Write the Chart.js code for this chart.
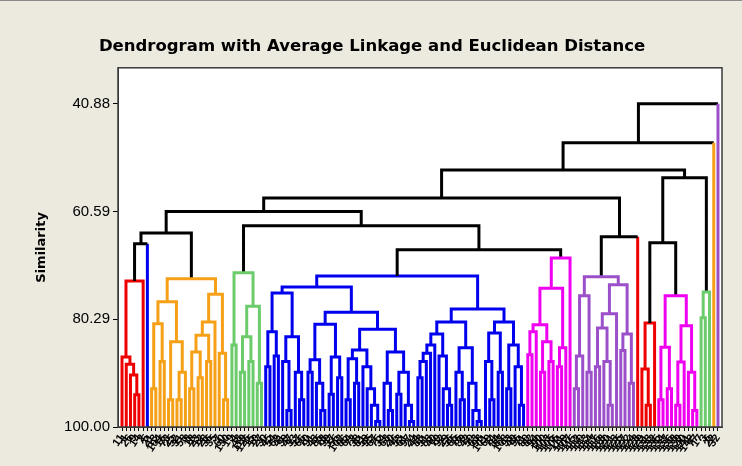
<!DOCTYPE html>
<html><head><meta charset="utf-8">
<script src="https://cdn.jsdelivr.net/npm/chart.js@4/dist/chart.umd.min.js"></script>
<style>
html,body{margin:0;padding:0;background:#ECE9DF;}
canvas{display:block;}
</style></head><body>
<canvas id="c" width="742" height="466"></canvas>
<script>
// ---- tick labels (leaf / observation ids, left to right) ----
const leafLabels = [
 11,1,26,9,14,2,5,21,13,104,
 16,73,25,52,31,58,8,18,23,12,
 28,36,35,7,60,130,19,4,48,119,
 126,15,10,27,30,45,54,62,41,39,
 47,33,57,66,70,91,43,85,78,99,
 37,55,102,86,64,72,38,81,59,95,
 67,75,34,68,20,46,53,61,97,24,
 44,88,51,83,40,79,92,29,56,65,
 76,89,42,50,63,98,101,69,74,84,
 87,108,93,49,96,71,80,82,94,90,
 100,103,105,106,111,109,107,115,112,110,
 113,114,117,116,118,120,121,123,125,127,
 122,124,128,129,131,133,132,135,134,137,
 136,138,139,140,141,142,77,17,3,6,
 22,32];
const yTickValues = [40.88, 60.59, 80.29, 100.00];

// ---- clusters: node = [similarity, left, right]; leaf = position index ----
const redL = [73.3, [87.2, 0, [88.5, 1, [90.5, 2, [94.1, 3, 4]]]], 5];
const blueS = 6;
const orange = [72.9,
  [77.1, [81.1, [93, 7, 8], [88, 9, 10]], [84.4, [95, 11, 12], [90, [95, 13, 14], 15]]],
  [75.7, [80.8, [83.2, [86.3, [93, 16, 17], [91, 18, 19]], [88, 20, 21]], 22], [86.5, 23, [95, 24, 25]]]];
const greenL = [71.8, [85, 26, 27], [77.9, [83.5, [90, 28, 29], [88, 30, 31]], [92, 32, 33]]];
const blue = [72.4,
  [74.4,
    [75.5, [82.6, [89, 34, 35], [87, 36, 37]], [83.5, [88, 38, [97, 39, 40]], [90, 41, [95, 42, 43]]]],
    [79.0,
      [81.2, [87.7, [90, 44, 45], [92, 46, [97, 47, 48]]], [87.2, [94, 49, 50], [91, 51, 52]]],
      [82.1,
        [85.9, [87.5, [95, 53, 54], [92, 55, 56]], [89, 57, [93, 58, [96, 59, [99, 60, 61]]]]],
        [86.3, [92, 62, [97, 63, 64]], [90, [94, 65, 66], [96, 67, [99, 68, 69]]]]]]],
  [78.4,
    [80.8,
      [83, [85, [86.5, [88, [91, 70, 71], 72], 73], 74], [87, 75, [93, 76, [96, 77, 78]]]],
      [85.5, [90, 79, [95, 80, 81]], [92, 82, [97, 83, [99, 84, 85]]]]],
    [80.8,
      [82.8, [88, 86, [95, 87, 88]], [90, 89, 90]],
      [85, [93, 91, 92], [89, 93, [96, 94, 95]]]]]];
const magenta = [69.1,
  [74.6, [81.3, [82.6, [86.8, 96, 97], 98], [84.4, [90, 99, 100], [88, 101, 102]]], [85.5, [89, 103, 104], 105]],
  106];
const purple = [72.5,
  [76, [87, [93, 107, 108], 109], [90, 110, 111]],
  [74, [79.3, [81.9, [89, 112, 113], [88, 114, [96, 115, 116]]], 117], [83, [86, 118, 119], [92, 120, 121]]]];
const redS = 122;
const redR = [81, [89.4, 123, [96, 124, 125]], 126];
const magentaR = [76, [85.4, [95, 127, 128], [93, 129, 130]], [81.5, [88.1, [96, 131, 132], 133], [90, 134, [97, 135, 136]]]];
const greenR = [75.3, [80, 137, 138], 139];
const orangeS = 140;
const purpleS = 141;

// joins between clusters (black links)
const topTree = [40.88,
  [48.0,
    [53.0,
      [58.1,
        [60.6, [64.5, [66.5, 'redL', 'blueS'], 'orange'], [63.2, 'greenL', [67.6, 'blue', 'magenta']]],
        [65.2, 'purple', 'redS']],
      [54.4, [66.3, 'redR', 'magentaR'], 'greenR']],
    'orangeS'],
  'purpleS'];

const clusters = {redL, blueS, orange, greenL, blue, magenta, purple, redS, redR, magentaR, greenR, orangeS, purpleS};
const RED='#EE0000', BLUE='#0000EE', ORANGE='#F5A016', GREEN='#6CCB6A', MAGENTA='#F000F0', PURPLE='#9B50CA';
const clusterColors = {redL:RED, blueS:BLUE, orange:ORANGE, greenL:GREEN, blue:BLUE, magenta:MAGENTA,
  purple:PURPLE, redS:RED, redR:RED, magentaR:MAGENTA, greenR:GREEN, orangeS:ORANGE, purpleS:PURPLE};
const joinColor = '#000000';

// ---- build line paths from the tree ----
const paths = new Map();
function addPath(color, pts){
  if(!paths.has(color)) paths.set(color, []);
  const arr = paths.get(color);
  if (arr.length) arr.push({x: pts[0].x, y: null});
  arr.push(...pts);
}
function walk(node, color){
  if (typeof node === 'string') return walk(clusters[node], clusterColors[node]);
  if (typeof node === 'number') return {x: node, y: 100, leaf: true, color};
  const [s, a, b] = node;
  const A = walk(a, color), B = walk(b, color);
  const pts = [];
  if (A.leaf && A.color !== color) addPath(A.color, [{x:A.x,y:A.y},{x:A.x,y:s}]); else pts.push({x:A.x,y:A.y});
  pts.push({x:A.x,y:s},{x:B.x,y:s});
  if (B.leaf && B.color !== color) addPath(B.color, [{x:B.x,y:B.y},{x:B.x,y:s}]); else pts.push({x:B.x,y:B.y});
  addPath(color, pts);
  return {x:(A.x+B.x)/2, y:s, leaf:false, color};
}
walk(topTree, joinColor);

const datasets = [];
for (const [color, pts] of paths) {
  datasets.push({type:'line', data: pts, borderColor: color, borderWidth: 3, pointRadius: 0,
    spanGaps: false, fill: false, tension: 0, borderCapStyle:'butt', borderJoinStyle:'miter'});
}
datasets.reverse();

const framePlugin = {
  id: 'frame',
  beforeDraw(chart){
    const {ctx, chartArea:a} = chart;
    ctx.save();
    ctx.fillStyle = '#ECE9DF'; ctx.fillRect(0,0,chart.width,chart.height);
    ctx.fillStyle = '#FFFFFF'; ctx.fillRect(a.left, a.top, a.right-a.left, a.bottom-a.top);
    ctx.strokeStyle = '#8a8a8a'; ctx.lineWidth = 1;
    ctx.beginPath(); ctx.moveTo(0,0.5); ctx.lineTo(chart.width,0.5); ctx.stroke();
    ctx.restore();
  },
  afterDraw(chart){
    const {ctx, chartArea:a} = chart;
    ctx.save();
    ctx.strokeStyle = '#3a3a3a'; ctx.lineWidth = 1.5;
    ctx.strokeRect(a.left, a.top, a.right-a.left, a.bottom-a.top);
    ctx.restore();
  }
};

new Chart(document.getElementById('c'), {
  data: { datasets },
  options: {
    responsive: false, animation: false, events: [],
    layout: { padding: { left: 22, right: 20, top: 0, bottom: 0 } },
    plugins: {
      legend: { display: false }, tooltip: { enabled: false },
      title: { display: true, text: 'Dendrogram with Average Linkage and Euclidean Distance',
        color: '#000', font: { family: 'DejaVu Sans', size: 16.5, weight: 'bold', lineHeight: 1.2 },
        padding: { top: 37, bottom: 11 } }
    },
    scales: {
      x: {
        type: 'linear', min: -0.95, max: 141.95,
        afterBuildTicks: (sc) => { sc.ticks = leafLabels.map((_, i) => ({ value: i })); },
        afterFit: (sc) => { sc.height = 39; },
        ticks: { autoSkip: false, minRotation: 55, maxRotation: 55, padding: 1, color: '#000',
          font: { family: 'Liberation Sans', size: 11, weight: 'bold' },
          callback: (v) => String(leafLabels[v] ?? '') },
        grid: { drawOnChartArea: false, drawTicks: true, tickLength: 4, color: '#000' },
        border: { display: true, color: '#3a3a3a' }
      },
      y: {
        type: 'linear', reverse: true, min: 34.3, max: 100,
        afterBuildTicks: (sc) => { sc.ticks = yTickValues.map(v => ({ value: v })); },
        afterFit: (sc) => { sc.width = 96; },
        ticks: { color: '#000', padding: 3, font: { family: 'Liberation Sans', size: 15 },
          callback: (v) => Number(v).toFixed(2) },
        grid: { drawOnChartArea: false, drawTicks: true, tickLength: 5, color: '#000' },
        border: { display: true, color: '#3a3a3a' },
        title: { display: true, text: 'Similarity', color: '#000',
          font: { family: 'DejaVu Sans', size: 13, weight: 'bold' }, padding: { top: 12, bottom: 0 } }
      }
    }
  },
  plugins: [framePlugin]
});
</script>
</body></html>
